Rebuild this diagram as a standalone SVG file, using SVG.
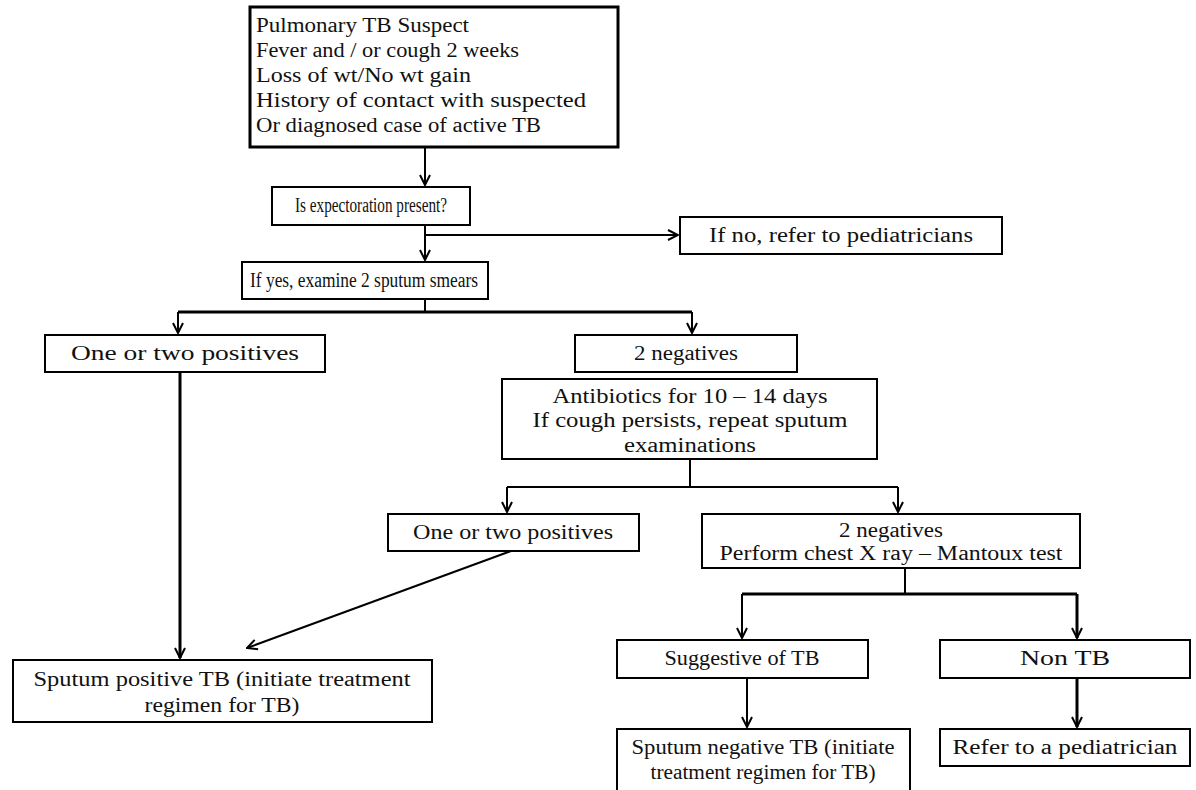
<svg xmlns="http://www.w3.org/2000/svg" width="1196" height="790" viewBox="0 0 1196 790">
<defs>
<style>
.box{fill:#fff;stroke:#000;stroke-width:2}
.thick{stroke-width:3}
.t{font-family:"Liberation Serif","Times New Roman",serif;font-size:20px;fill:#111}
.c{text-anchor:middle}
.ln{fill:none;stroke:#000;stroke-width:2}
.lnt{fill:none;stroke:#000;stroke-width:3}
</style>
<marker id="ah" viewBox="0 0 12 12" refX="11" refY="6" markerWidth="12" markerHeight="12" orient="auto" markerUnits="userSpaceOnUse"><path d="M1,1 L11,6 L1,11" fill="none" stroke="#000" stroke-width="2"/></marker>
</defs>
<rect width="1196" height="790" fill="#fff"/>
<g id="connectors">
<path class="ln" d="M425,147 V185" marker-end="url(#ah)"/>
<path class="ln" d="M425,225 V260" marker-end="url(#ah)"/>
<path class="ln" d="M425,235 H678" marker-end="url(#ah)"/>
<path class="ln" d="M425,299 V312"/>
<path class="lnt" d="M178,312 H692"/>
<path class="ln" d="M178,312 V333" marker-end="url(#ah)"/>
<path class="ln" d="M692,312 V333" marker-end="url(#ah)"/>
<path class="lnt" d="M180,372 V658" marker-end="url(#ah)"/>
<path class="ln" d="M511,551 L247,648" marker-end="url(#ah)"/>
<path class="ln" d="M690,459 V487"/>
<path class="ln" d="M507,487 H898"/>
<path class="ln" d="M507,487 V512" marker-end="url(#ah)"/>
<path class="ln" d="M898,487 V512" marker-end="url(#ah)"/>
<path class="ln" d="M905,567 V594"/>
<path class="lnt" d="M742,594 H1077"/>
<path class="ln" d="M742,594 V638" marker-end="url(#ah)"/>
<path class="lnt" d="M1077,594 V638" marker-end="url(#ah)"/>
<path class="ln" d="M747,678 V727" marker-end="url(#ah)"/>
<path class="lnt" d="M1077,678 V727" marker-end="url(#ah)"/>
</g>
<g id="suspect">
<rect class="box thick" x="250" y="7" width="368" height="140"/>
<text class="t" x="256" y="32" textLength="213" lengthAdjust="spacingAndGlyphs">Pulmonary TB Suspect</text>
<text class="t" x="256" y="57" textLength="263" lengthAdjust="spacingAndGlyphs">Fever and / or cough 2 weeks</text>
<text class="t" x="256" y="82" textLength="215" lengthAdjust="spacingAndGlyphs">Loss of wt/No wt gain</text>
<text class="t" x="256" y="107" textLength="330" lengthAdjust="spacingAndGlyphs">History of contact with suspected</text>
<text class="t" x="256" y="132" textLength="285" lengthAdjust="spacingAndGlyphs">Or diagnosed case of active TB</text>
</g>
<g id="expectoration">
<rect class="box" x="272" y="187" width="198" height="38"/>
<text class="t c" x="371" y="212" textLength="152" lengthAdjust="spacingAndGlyphs">Is expectoration present?</text>
</g>
<g id="ifno">
<rect class="box" x="680" y="217" width="322" height="37"/>
<text class="t c" x="841" y="242" textLength="264" lengthAdjust="spacingAndGlyphs">If no, refer to pediatricians</text>
</g>
<g id="ifyes">
<rect class="box" x="242" y="262" width="246" height="37"/>
<text class="t c" x="364" y="287" textLength="228" lengthAdjust="spacingAndGlyphs">If yes, examine 2 sputum smears</text>
</g>
<g id="positives1">
<rect class="box" x="45" y="335" width="280" height="37"/>
<text class="t c" x="185" y="360" textLength="228" lengthAdjust="spacingAndGlyphs">One or two positives</text>
</g>
<g id="negatives1">
<rect class="box" x="575" y="335" width="222" height="37"/>
<text class="t c" x="686" y="360" textLength="104" lengthAdjust="spacingAndGlyphs">2 negatives</text>
</g>
<g id="antibiotics">
<rect class="box" x="502" y="379" width="375" height="80"/>
<text class="t c" x="690" y="403" textLength="275" lengthAdjust="spacingAndGlyphs">Antibiotics for 10 – 14 days</text>
<text class="t c" x="690" y="427" textLength="315" lengthAdjust="spacingAndGlyphs">If cough persists, repeat sputum</text>
<text class="t c" x="690" y="452" textLength="132" lengthAdjust="spacingAndGlyphs">examinations</text>
</g>
<g id="positives2">
<rect class="box" x="388" y="514" width="251" height="37"/>
<text class="t c" x="513" y="539" textLength="200" lengthAdjust="spacingAndGlyphs">One or two positives</text>
</g>
<g id="negatives2">
<rect class="box" x="702" y="514" width="378" height="54"/>
<text class="t c" x="891" y="537" textLength="104" lengthAdjust="spacingAndGlyphs">2 negatives</text>
<text class="t c" x="891" y="560" textLength="343" lengthAdjust="spacingAndGlyphs">Perform chest X ray – Mantoux test</text>
</g>
<g id="suggestive">
<rect class="box" x="617" y="640" width="251" height="38"/>
<text class="t c" x="742" y="665" textLength="155" lengthAdjust="spacingAndGlyphs">Suggestive of TB</text>
</g>
<g id="nontb">
<rect class="box" x="940" y="640" width="250" height="38"/>
<text class="t c" x="1065" y="665" textLength="90" lengthAdjust="spacingAndGlyphs">Non TB</text>
</g>
<g id="sputumpositive">
<rect class="box" x="13" y="660" width="419" height="62"/>
<text class="t c" x="222" y="686" textLength="377" lengthAdjust="spacingAndGlyphs">Sputum positive TB (initiate treatment</text>
<text class="t c" x="222" y="712" textLength="155" lengthAdjust="spacingAndGlyphs">regimen for TB)</text>
</g>
<g id="sputumnegative">
<rect class="box" x="617" y="729" width="293" height="70"/>
<text class="t c" x="763" y="754" textLength="263" lengthAdjust="spacingAndGlyphs">Sputum negative TB (initiate</text>
<text class="t c" x="763" y="779" textLength="225" lengthAdjust="spacingAndGlyphs">treatment regimen for TB)</text>
</g>
<g id="refer">
<rect class="box" x="940" y="729" width="250" height="37"/>
<text class="t c" x="1065" y="754" textLength="225" lengthAdjust="spacingAndGlyphs">Refer to a pediatrician</text>
</g>
</svg>
